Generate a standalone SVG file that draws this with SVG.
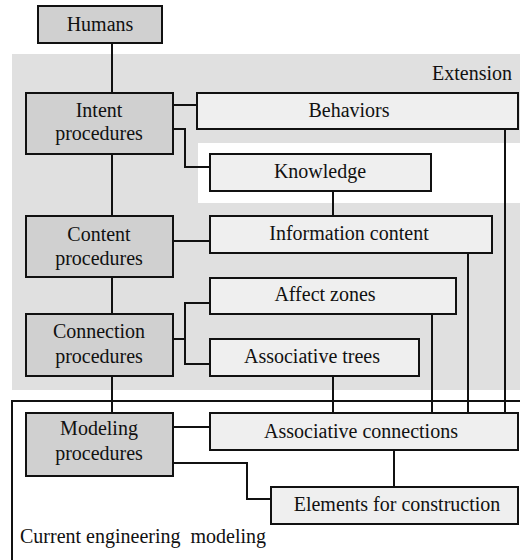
<svg xmlns="http://www.w3.org/2000/svg" width="520" height="560" viewBox="0 0 520 560">
  <style>
    .proc { fill: #d0d0d0; stroke: #111; stroke-width: 2; }
    .item { fill: #efefef; stroke: #111; stroke-width: 2; }
    .wire { fill: none; stroke: #111; stroke-width: 2; }
    text { font-family: "Liberation Serif", "Times New Roman", serif; font-size: 20px; fill: #111; }
    .c { text-anchor: middle; }
    .pre { white-space: pre; }
  </style>

  <rect width="520" height="560" fill="#fff"/>

  <!-- Extension zone (grey band with a notch around Knowledge) -->
  <path id="extension" d="M12,54 H520 V143 H198 V203 H520 V390 H12 Z" fill="#e0e0e0"/>
  <text x="512" y="80" text-anchor="end">Extension</text>

  <!-- Current engineering modeling frame (open to the right and bottom) -->
  <path id="current-frame" d="M520,401 H12 V560" fill="none" stroke="#111" stroke-width="2"/>
  <text class="pre" x="20" y="543" xml:space="preserve">Current engineering  modeling</text>

  <g id="connectors" class="wire">
    <path d="M112,43 V93"/>
    <path d="M112,154 V216"/>
    <path d="M112,277 V314"/>
    <path d="M112,376 V413"/>
    <path d="M173,105 H197"/>
    <path d="M173,129 H185 V167 H210"/>
    <path d="M333,191 V216"/>
    <path d="M173,241 H210"/>
    <path d="M173,339 H185"/>
    <path d="M210,303 H185 V364 H210"/>
    <path d="M505,129 V413"/>
    <path d="M468,253 V413"/>
    <path d="M432,314 V413"/>
    <path d="M333,376 V413"/>
    <path d="M173,427 H210"/>
    <path d="M173,463 H247 V499 H271"/>
    <path d="M394,450 V487"/>
  </g>

  <g id="humans">
    <rect class="proc" x="38" y="6" width="124" height="37"/>
    <text class="c" x="100" y="31">Humans</text>
  </g>

  <g id="intent-procedures">
    <rect class="proc" x="26" y="93" width="147" height="61"/>
    <text class="c" x="99" y="117">Intent</text>
    <text class="c" x="99" y="140">procedures</text>
  </g>

  <g id="behaviors">
    <rect class="item" x="197" y="93" width="321" height="36"/>
    <text class="c" x="349" y="117">Behaviors</text>
  </g>

  <g id="knowledge">
    <rect class="item" x="210" y="154" width="221" height="37"/>
    <text class="c" x="320" y="178">Knowledge</text>
  </g>

  <g id="content-procedures">
    <rect class="proc" x="26" y="216" width="147" height="61"/>
    <text class="c" x="99" y="241">Content</text>
    <text class="c" x="99" y="265">procedures</text>
  </g>

  <g id="information-content">
    <rect class="item" x="210" y="216" width="282" height="37"/>
    <text class="c" x="349" y="240">Information content</text>
  </g>

  <g id="connection-procedures">
    <rect class="proc" x="26" y="314" width="147" height="62"/>
    <text class="c" x="99" y="338">Connection</text>
    <text class="c" x="99" y="363">procedures</text>
  </g>

  <g id="affect-zones">
    <rect class="item" x="210" y="278" width="246" height="36"/>
    <text class="c" x="325" y="301">Affect zones</text>
  </g>

  <g id="associative-trees">
    <rect class="item" x="210" y="339" width="209" height="37"/>
    <text class="c" x="312" y="363">Associative trees</text>
  </g>

  <g id="modeling-procedures">
    <rect class="proc" x="26" y="413" width="147" height="63"/>
    <text class="c" x="99" y="435">Modeling</text>
    <text class="c" x="99" y="460">procedures</text>
  </g>

  <g id="associative-connections">
    <rect class="item" x="210" y="413" width="308" height="37"/>
    <text class="c" x="361" y="438">Associative connections</text>
  </g>

  <g id="elements-for-construction">
    <rect class="item" x="271" y="487" width="247" height="37"/>
    <text class="c" x="397" y="511">Elements for construction</text>
  </g>
</svg>
